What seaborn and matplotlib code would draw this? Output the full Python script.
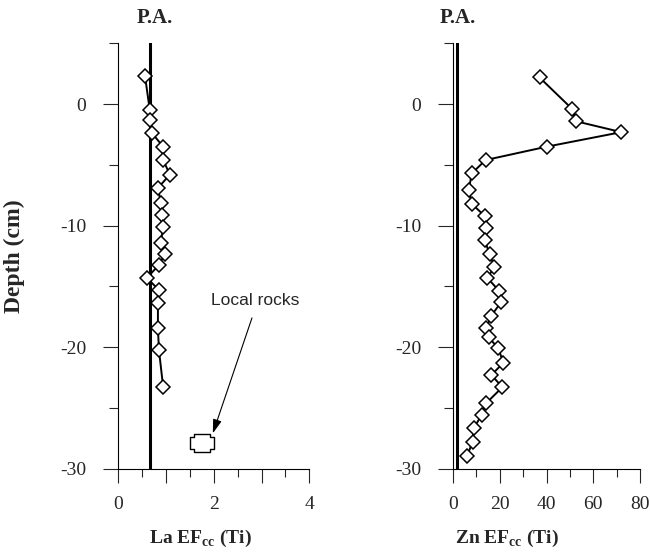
"""Depth profiles of La and Zn enrichment factors (EFcc, Ti normalised)."""

import matplotlib

matplotlib.use("Agg")

import matplotlib.pyplot as plt
import pandas as pd
import seaborn as sns
from matplotlib.path import Path
from matplotlib.ticker import FixedFormatter, FixedLocator, MultipleLocator

# La EF profile (depth in cm)
la_depth = [2.3, -0.5, -1.3, -2.4, -3.5, -4.6, -5.8, -6.9, -8.1, -9.1,
            -10.1, -11.4, -12.3, -13.2, -14.3, -15.3, -16.4, -18.4, -20.2, -23.3]
la_ef = [0.56, 0.66, 0.66, 0.71, 0.94, 0.94, 1.08, 0.83, 0.89, 0.92,
         0.94, 0.89, 0.98, 0.86, 0.60, 0.85, 0.83, 0.83, 0.85, 0.94]

# Zn EF profile
zn_depth = [2.2, -0.4, -1.4, -2.3, -3.5, -4.6, -5.7, -7.1, -8.2, -9.2,
            -10.2, -11.2, -12.3, -13.4, -14.3, -15.4, -16.3, -17.4, -18.4, -19.2,
            -20.1, -21.3, -22.3, -23.3, -24.6, -25.6, -26.7, -27.8, -29.0]
zn_ef = [37.0, 51.0, 52.5, 72.0, 40.0, 13.9, 8.0, 6.7, 8.0, 13.5,
         14.3, 13.5, 15.6, 17.7, 14.7, 19.8, 20.6, 16.4, 14.3, 15.2,
         19.4, 21.5, 16.4, 21.1, 14.3, 12.2, 8.8, 8.4, 5.9]

# present average (P.A.) reference values
pa_la = 0.66
pa_zn = 1.5

# local rocks value for La
rock_la = 1.75
rock_depth = -27.9

la_ticks = [0, 1, 2, 3, 4]
la_labels = ["0", "", "2", "", "4"]
zn_ticks = [0, 20, 40, 60, 80]
depth_ticks = [-30, -20, -10, 0]

sns.set_style("ticks")
plt.rcParams["font.family"] = ["Liberation Serif", "DejaVu Serif"]
plt.rcParams["mathtext.fontset"] = "custom"
plt.rcParams["mathtext.rm"] = "Liberation Serif"
plt.rcParams["mathtext.bf"] = "Liberation Serif:bold"
plt.rcParams["axes.unicode_minus"] = False

la_frame = pd.DataFrame({"depth": la_depth, "ef": la_ef})
zn_frame = pd.DataFrame({"depth": zn_depth, "ef": zn_ef})

fig = plt.figure(figsize=(6.5, 5.54), dpi=100)
ax_la = fig.add_axes([0.182, 0.1543, 0.2938, 0.7672])
ax_zn = fig.add_axes([0.697, 0.1543, 0.2877, 0.7672])

line_kws = dict(
    sort=False,
    estimator=None,
    color="black",
    linewidth=1.4,
    marker="D",
    markersize=7.5,
    markerfacecolor="white",
    markeredgecolor="black",
    markeredgewidth=1.1,
)

for ax, frame, pa in [(ax_la, la_frame, pa_la), (ax_zn, zn_frame, pa_zn)]:
    ax.axvline(pa, color="black", linewidth=2.2, zorder=1)
    sns.lineplot(data=frame, x="ef", y="depth", ax=ax, zorder=3, **line_kws)
    ax.set_ylim(-30, 5)
    ax.yaxis.set_major_locator(FixedLocator(depth_ticks))
    ax.yaxis.set_minor_locator(MultipleLocator(5))
    ax.tick_params(axis="y", which="major", direction="out", length=11, width=0.8,
                   pad=12, labelsize=14)
    ax.tick_params(axis="y", which="minor", direction="out", length=6.5, width=0.8)
    ax.tick_params(axis="x", which="major", direction="out", length=10, width=0.8,
                   pad=10, labelsize=14)
    ax.tick_params(axis="x", which="minor", direction="out", length=5.5, width=0.8)
    for side in ["top", "right"]:
        ax.spines[side].set_visible(False)
    for side in ["left", "bottom"]:
        ax.spines[side].set_linewidth(0.8)
        ax.spines[side].set_color("black")
    ax.set_ylabel("")

ax_la.set_xlim(0, 4)
ax_la.xaxis.set_major_locator(FixedLocator(la_ticks))
ax_la.xaxis.set_major_formatter(FixedFormatter(la_labels))
ax_la.xaxis.set_minor_locator(MultipleLocator(0.5))

ax_zn.set_xlim(0, 80)
ax_zn.xaxis.set_major_locator(FixedLocator(zn_ticks))
ax_zn.xaxis.set_minor_locator(MultipleLocator(10))

# local rocks marker: fat cross
cross = Path([(-1, -0.47), (-0.64, -0.47), (-0.64, -0.76), (0.64, -0.76),
              (0.64, -0.47), (1, -0.47), (1, 0.47), (0.64, 0.47),
              (0.64, 0.76), (-0.64, 0.76), (-0.64, 0.47), (-1, 0.47), (-1, -0.47)],
             closed=True)
ax_la.plot([rock_la], [rock_depth], marker=cross, markersize=17, linestyle="none",
           markerfacecolor="white", markeredgecolor="black", markeredgewidth=1.0,
           clip_on=False, zorder=3)
ax_la.annotate("", xy=(1.98, -27.1), xytext=(2.8, -17.6),
               arrowprops=dict(arrowstyle="-|>,head_length=0.7,head_width=0.22",
                               color="black", lw=0.8, shrinkA=0, shrinkB=0,
                               mutation_scale=12))
ax_la.text(2.86, -16.2, "Local rocks", ha="center", va="center", fontsize=12.5,
           family=["Liberation Sans", "DejaVu Sans"])

ax_la.set_xlabel(r"La EF$_{\mathbf{cc}}$ (Ti)", fontsize=14, fontweight="bold")
ax_zn.set_xlabel(r"Zn EF$_{\mathbf{cc}}$ (Ti)", fontsize=14, fontweight="bold")
ax_la.xaxis.set_label_coords(0.43, -0.14)
ax_zn.xaxis.set_label_coords(0.29, -0.14)

ax_la.set_ylabel("Depth (cm)", fontsize=17, fontweight="bold")
ax_la.yaxis.set_label_coords(-0.49, 0.5)

fig.text(155 / 650, 1 - 18 / 554, "P.A.", ha="center", va="center",
         fontsize=15, fontweight="bold")
fig.text(458 / 650, 1 - 18 / 554, "P.A.", ha="center", va="center",
         fontsize=15, fontweight="bold")

fig.savefig("out.png", dpi=100)
plt.close(fig)
